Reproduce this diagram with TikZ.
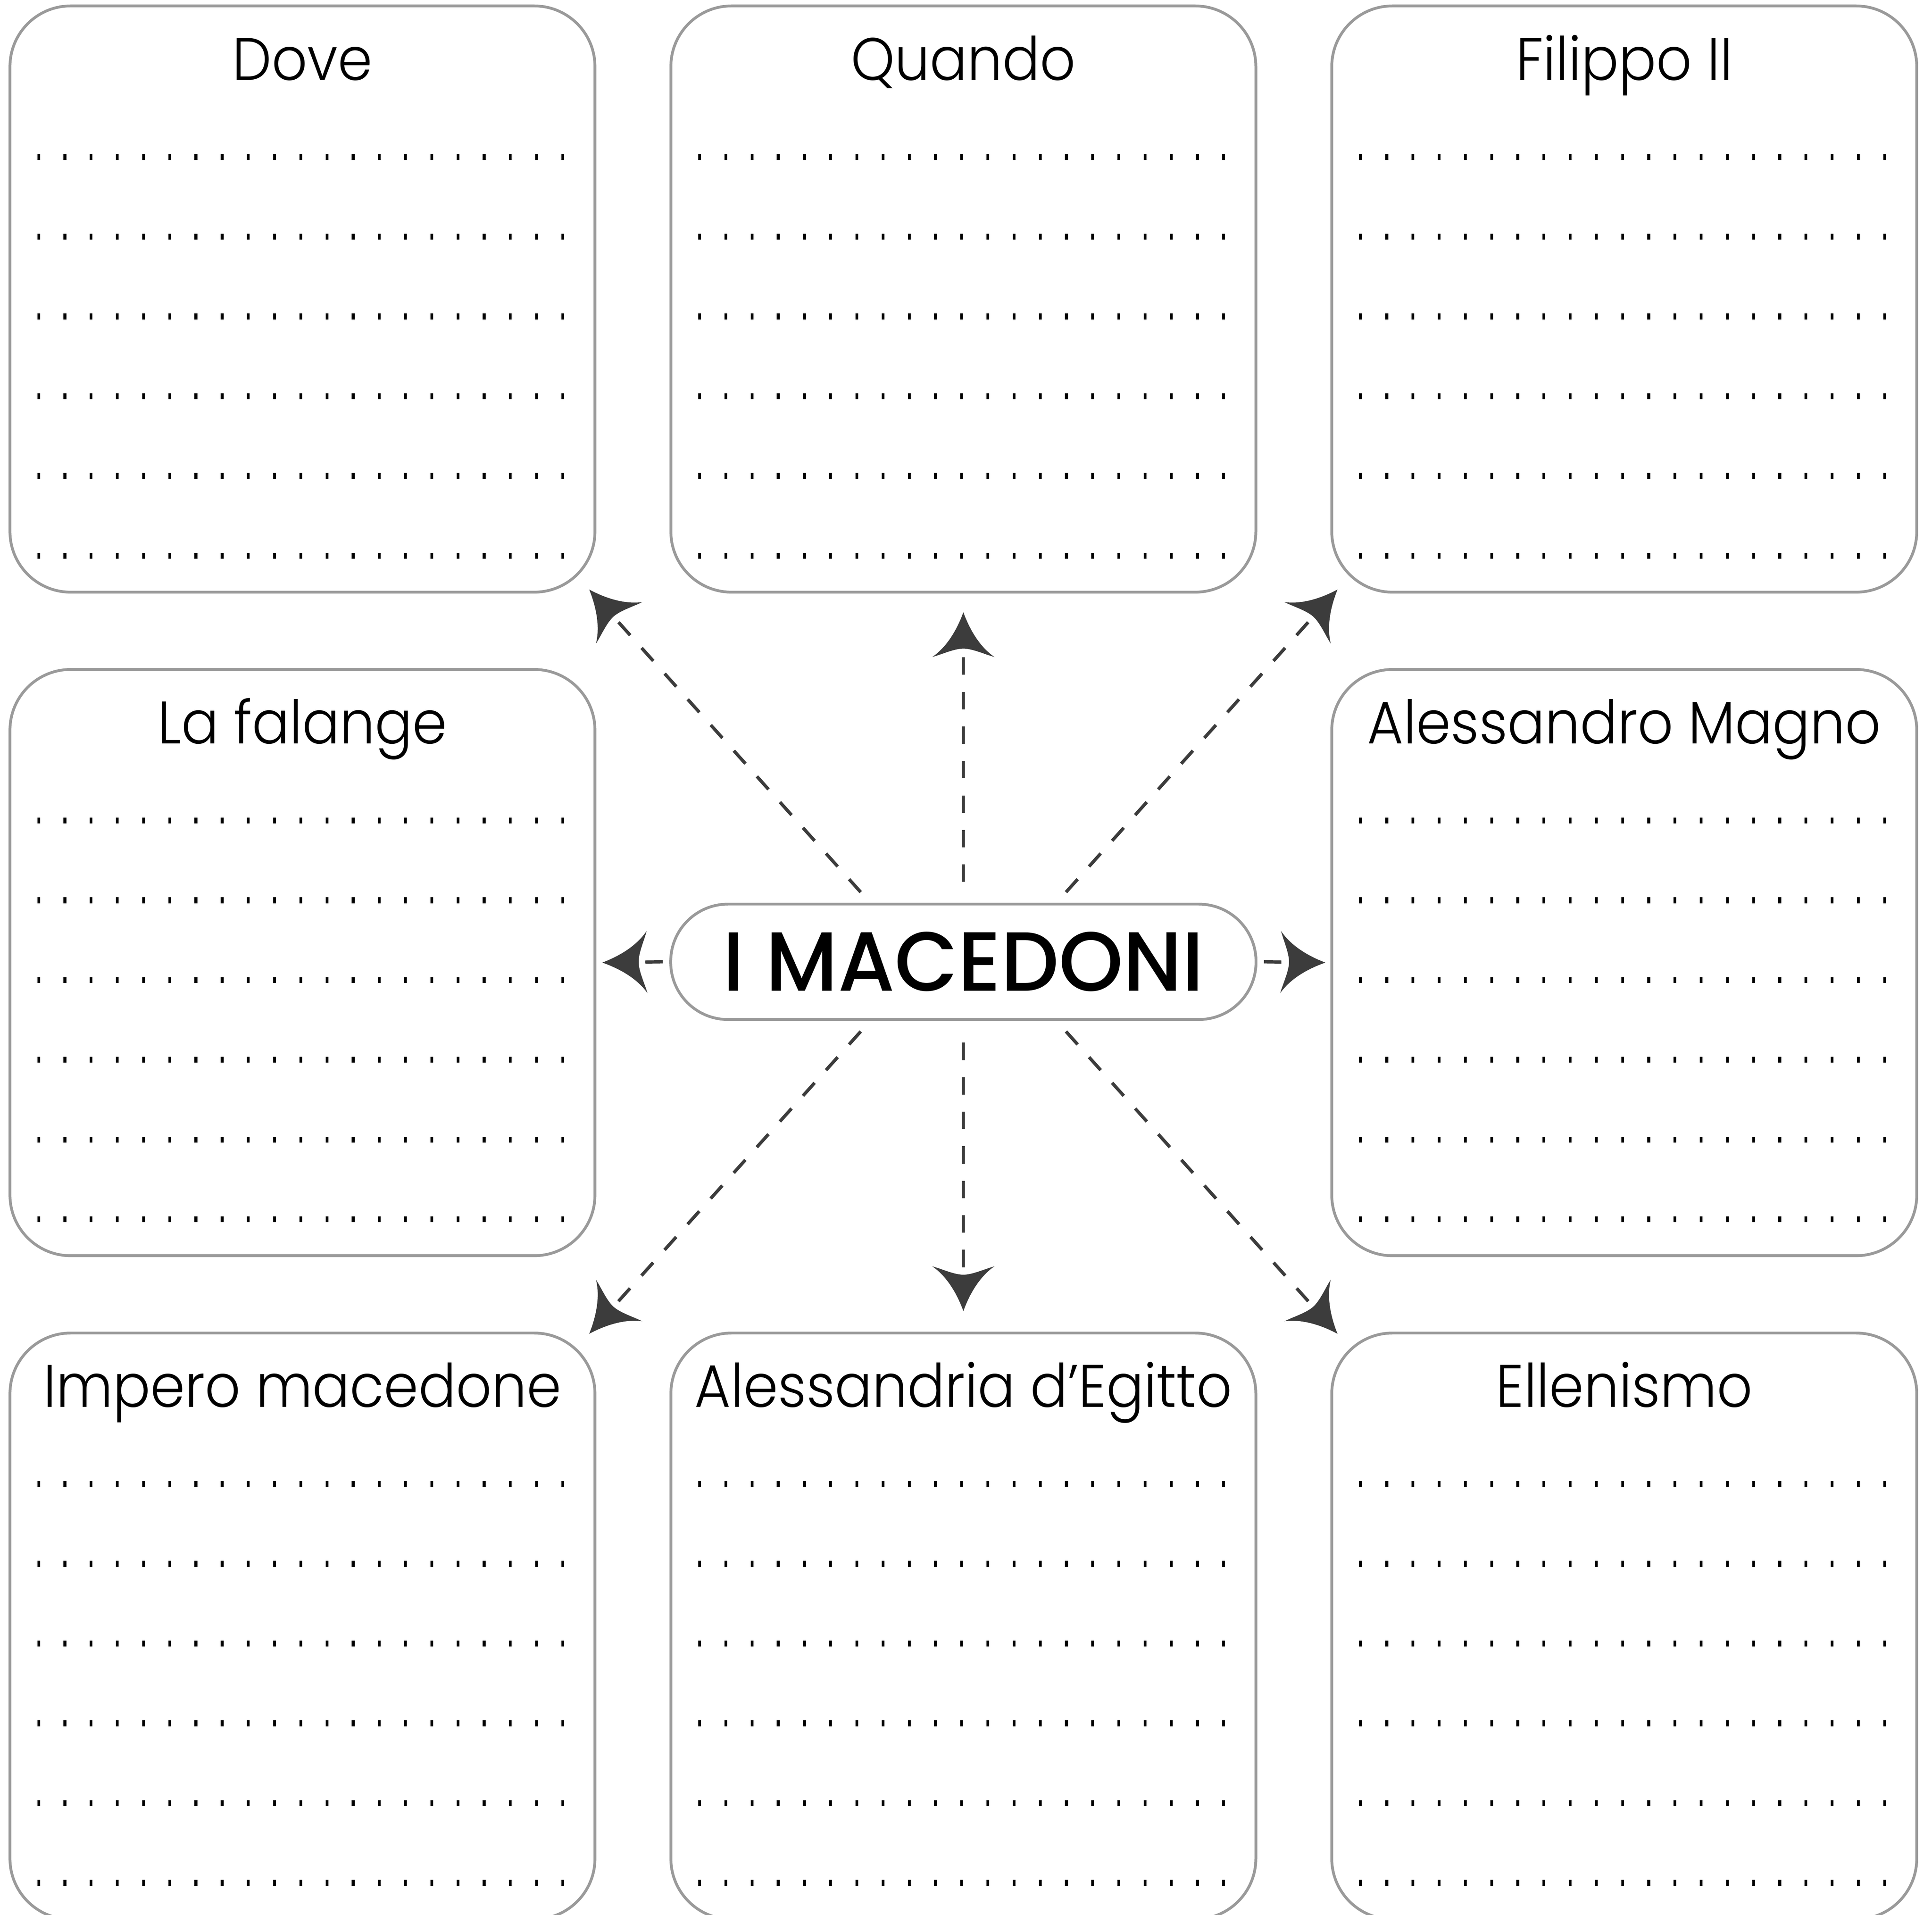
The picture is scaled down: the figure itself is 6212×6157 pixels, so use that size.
\documentclass[tikz,border=0pt]{standalone}
\usepackage{fontspec}
\IfFontExistsTF{Poppins Light}{\newfontfamily\cardfont{Poppins Light}[FakeStretch=0.925]}{\newfontfamily\cardfont{Poppins}[FakeStretch=0.925]}
\IfFontExistsTF{Poppins Medium}{\newfontfamily\centerfont{Poppins Medium}[FakeStretch=0.975]}{\newfontfamily\centerfont{Poppins}[FakeStretch=0.975]}
\usetikzlibrary{calc,arrows.meta}
\definecolor{boxgray}{HTML}{9A9A9A}
\definecolor{arrowgray}{HTML}{3C3C3C}

\pgfdeclarearrow{
  name = CurvyHead,
  setup code = {
    \pgfarrowssettipend{0pt}
    \pgfarrowssetlineend{-11pt}
    \pgfarrowssetbackend{-14.4pt}
    \pgfarrowshullpoint{0pt}{0pt}
    \pgfarrowshullpoint{-14.4pt}{10pt}
    \pgfarrowshullpoint{-14.4pt}{-10pt}
  },
  drawing code = {
    \pgfpathmoveto{\pgfqpoint{0pt}{0pt}}
    \pgfpathcurveto{\pgfqpoint{-5pt}{1.8pt}}{\pgfqpoint{-11pt}{5pt}}{\pgfqpoint{-14.4pt}{10pt}}
    \pgfpathcurveto{\pgfqpoint{-13.6pt}{7pt}}{\pgfqpoint{-11.7pt}{3pt}}{\pgfqpoint{-11.7pt}{0pt}}
    \pgfpathcurveto{\pgfqpoint{-11.7pt}{-3pt}}{\pgfqpoint{-13.6pt}{-7pt}}{\pgfqpoint{-14.4pt}{-10pt}}
    \pgfpathcurveto{\pgfqpoint{-11pt}{-5pt}}{\pgfqpoint{-5pt}{-1.8pt}}{\pgfqpoint{0pt}{0pt}}
    \pgfpathclose
    \pgfusepathqfill
  }
}

\begin{document}
\begin{tikzpicture}[x=0.1pt,y=-0.1pt,
  card/.style={draw=boxgray, line width=0.9pt, rounded corners=19.5pt,
    minimum width=188.1pt, minimum height=188.5pt, inner sep=0pt, fill=white},
  cardtitle/.style={anchor=base, inner sep=0pt,
    font=\cardfont\fontsize{19.3pt}{23pt}\selectfont},
  hub/.style={draw=boxgray, line width=0.9pt, rounded corners=18.4pt,
    minimum width=188.2pt, minimum height=37.1pt, inner sep=0pt, fill=white,
    font=\centerfont\fontsize{27pt}{32pt}\selectfont},
  link/.style={draw=arrowgray, line width=1.05pt, dash pattern=on 5.6pt off 5.5pt, -CurvyHead},
  dotrow/.style={draw=black, line width=1.9pt, dash pattern=on 0.9pt off 7.525pt}
]
\useasboundingbox (0,0) rectangle (6212,6157);
\clip (0,0) rectangle (6212,6157);
\fill[white] (0,0) rectangle (6212,6157);

% cards
\node[card] (b1) at (972.5,961.5) {};
\node[card] (b2) at (3097.5,961.5) {};
\node[card] (b3) at (5222.5,961.5) {};
\node[card] (b4) at (972.5,3095) {};
\node[card] (b6) at (5222.5,3095) {};
\node[card] (b7) at (972.5,5228.5) {};
\node[card] (b8) at (3097.5,5228.5) {};
\node[card] (b9) at (5222.5,5228.5) {};

% titles
\node[cardtitle] (t1) at ($(b1.north)+(0,243)$) {Dove};
\node[cardtitle] (t2) at ($(b2.north)+(0,243)$) {Quando};
\node[cardtitle] (t3) at ($(b3.north)+(0,243)$) {Filippo II};
\node[cardtitle] (t4) at ($(b4.north)+(0,243)$) {La falange};
\node[cardtitle] (t6) at ($(b6.north)+(0,243)$) {Alessandro Magno};
\node[cardtitle] (t7) at ($(b7.north)+(0,243)$) {Impero macedone};
\node[cardtitle] (t8) at ($(b8.north)+(0,243)$) {Alessandria d’Egitto};
\node[cardtitle] (t9) at ($(b9.north)+(0,243)$) {Ellenismo};

% writing lines
\foreach \b in {b1,b2,b3,b4,b6,b7,b8,b9}{
  \foreach \r in {0,...,5}{
    \draw[dotrow] ($(\b.north west)+(92.5,490+256.5*\r)$) -- ++(1694,0);
  }
}

% centre
\node[hub] (mac) at (3097.5,3092.5) {I MACEDONI};

% connectors
\draw[link] ($(mac.north)+(0,-67)$) -- ($(b2.south)+(0,60)$);
\draw[link] ($(mac.south)+(0,70)$) -- ($(b8.north)+(0,-66)$);
\draw[link] ($(mac.west)+(-21,0)$) -- ($(b4.east)+(19,0)$);
\draw[link] ($(mac.east)+(21,0)$) -- ($(b6.west)+(-16,0)$);
\draw[link] ($(mac.north)+(-330,-34)$) -- ($(b1.south east)+(-23,-13)$);
\draw[link] ($(mac.north)+(330,-34)$) -- ($(b3.south west)+(23,-13)$);
\draw[link] ($(mac.south)+(-330,34)$) -- ($(b7.north east)+(-23,7)$);
\draw[link] ($(mac.south)+(330,34)$) -- ($(b9.north west)+(23,7)$);
\end{tikzpicture}
\end{document}
